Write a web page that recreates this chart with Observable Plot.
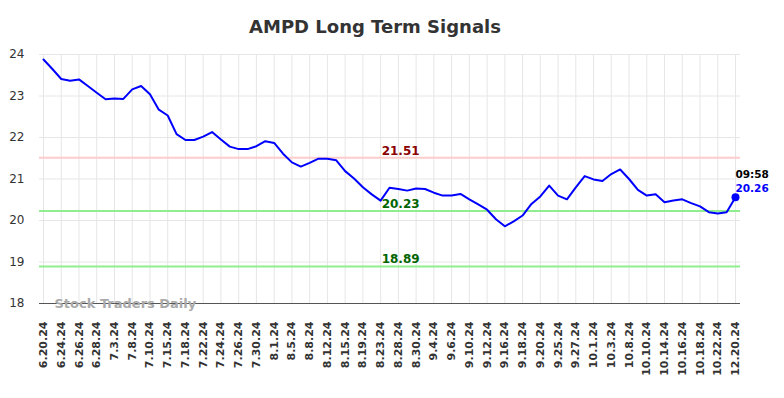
<!DOCTYPE html>
<html>
<head>
<meta charset="utf-8">
<script src="https://cdn.jsdelivr.net/npm/d3@7"></script>
<script src="https://cdn.jsdelivr.net/npm/@observablehq/plot@0.6"></script>
<style>
  html, body { margin: 0; padding: 0; background: #fff; }
  #wrap { width: 784px; height: 398px; position: relative; overflow: hidden; }
  #title { position: relative; height: 40px; width: 784px; }
  #title span { position: absolute; left: 0; width: 750px; top: 18px; line-height: 18px; text-align: center;
    font-family: "DejaVu Sans", sans-serif; font-weight: bold; font-size: 18px; color: #333; }
  svg { display: block; }
</style>
</head>
<body>
<div id="wrap">
  <div id="title"><span>AMPD Long Term Signals</span></div>
  <div id="chart"></div>
</div>
<script>
const categories = [
  "6.20.24","6.21.24","6.24.24","6.25.24","6.26.24","6.27.24","6.28.24","7.1.24","7.3.24","7.5.24",
  "7.8.24","7.9.24","7.10.24","7.12.24","7.15.24","7.17.24","7.18.24","7.19.24","7.22.24","7.23.24",
  "7.24.24","7.25.24","7.26.24","7.29.24","7.30.24","7.31.24","8.1.24","8.2.24","8.5.24","8.6.24",
  "8.8.24","8.9.24","8.12.24","8.13.24","8.15.24","8.16.24","8.19.24","8.21.24","8.23.24","8.26.24",
  "8.28.24","8.29.24","8.30.24","9.3.24","9.4.24","9.5.24","9.6.24","9.9.24","9.10.24","9.11.24",
  "9.12.24","9.13.24","9.16.24","9.17.24","9.18.24","9.19.24","9.20.24","9.23.24","9.25.24","9.26.24",
  "9.27.24","9.30.24","10.1.24","10.2.24","10.3.24","10.4.24","10.8.24","10.9.24","10.10.24","10.11.24",
  "10.14.24","10.15.24","10.16.24","10.17.24","10.18.24","10.21.24","10.22.24","10.23.24","12.20.24"
];
const closes = [
  23.88,23.65,23.41,23.37,23.40,23.24,23.08,22.92,22.94,22.93,
  23.16,23.24,23.04,22.67,22.53,22.08,21.94,21.94,22.02,22.13,
  21.95,21.78,21.72,21.72,21.79,21.91,21.87,21.61,21.40,21.30,
  21.39,21.49,21.49,21.45,21.19,21.01,20.80,20.63,20.48,20.79,
  20.76,20.72,20.77,20.76,20.67,20.60,20.60,20.64,20.51,20.39,
  20.26,20.03,19.86,19.98,20.12,20.40,20.58,20.84,20.60,20.51,
  20.80,21.07,20.99,20.95,21.12,21.23,21.00,20.74,20.60,20.63,
  20.44,20.48,20.51,20.42,20.34,20.20,20.17,20.20,20.56
];
const tickLabels = [
  "6.20.24","6.24.24","6.26.24","6.28.24","7.3.24","7.8.24","7.10.24","7.15.24","7.18.24","7.22.24",
  "7.24.24","7.26.24","7.30.24","8.1.24","8.5.24","8.8.24","8.12.24","8.15.24","8.19.24","8.23.24",
  "8.28.24","8.30.24","9.4.24","9.6.24","9.10.24","9.12.24","9.16.24","9.18.24","9.20.24","9.25.24",
  "9.27.24","10.1.24","10.3.24","10.8.24","10.10.24","10.14.24","10.16.24","10.18.24","10.22.24","12.20.24"
];
const yTicks = [18, 19, 20, 21, 22, 23, 24];
const levels = [21.51, 20.23, 18.89];
const levelLabels = ["21.51", "20.23", "18.89"];
const levelLineColors = ["#ffcccc", "#90ee90", "#90ee90"];
const levelTextColors = ["#8b0000", "#006400", "#006400"];
const levelLabelAt = "8.23.24";
const lastTime = "09:58";
const lastLabel = "20.26";
const watermark = "Stock Traders Daily";

const data = categories.map((d, i) => ({date: d, close: closes[i]}));
const last = data[data.length - 1];

const levelMarks = levels.map((v, i) =>
  Plot.ruleY([v], {stroke: levelLineColors[i], strokeWidth: 2})
);
const levelTexts = levels.map((v, i) =>
  Plot.text([v], {x: () => levelLabelAt, y: d => d, text: () => levelLabels[i], textAnchor: "start",
    dx: 1, dy: -7, fontSize: 12, fontWeight: "bold", fill: levelTextColors[i]})
);

const chart = Plot.plot({
  width: 784,
  height: 358,
  marginTop: 14,
  marginBottom: 95,
  marginLeft: 39,
  marginRight: 44,
  style: {fontFamily: "DejaVu Sans", background: "white", overflow: "visible"},
  x: {type: "point", domain: categories, padding: 0, insetLeft: 4, insetRight: 5, label: null},
  y: {domain: [18, 24], label: null},
  marks: [
    Plot.ruleY(yTicks, {stroke: "#e6e6e6", strokeWidth: 1}),
    Plot.ruleX(tickLabels, {stroke: "#e6e6e6", strokeWidth: 1}),
    ...levelMarks,
    Plot.ruleY([18], {stroke: "#555", strokeWidth: 1}),
    Plot.text([watermark], {frameAnchor: "bottom-left", text: d => d, textAnchor: "start", lineAnchor: "middle",
      dx: 15, dy: 0, fontSize: 13, fontWeight: "bold", fill: "#aaa"}),
    Plot.line(data, {x: "date", y: "close", stroke: "#0000ff", strokeWidth: 2}),
    Plot.dot([last], {x: "date", y: "close", r: 4, fill: "#0000ff", stroke: "none"}),
    ...levelTexts,
    Plot.text([last], {x: "date", y: "close", text: () => lastTime, textAnchor: "start", dy: -23,
      fontSize: 10.5, fontWeight: "bold", fill: "#000"}),
    Plot.text([last], {x: "date", y: "close", text: () => lastLabel, textAnchor: "start", dy: -9,
      fontSize: 10.5, fontWeight: "bold", fill: "#0000ff"}),
    Plot.axisY({ticks: yTicks, tickFormat: d => String(d), tickSize: 0, tickPadding: 15, fontSize: 12,
      color: "#333", label: null}),
    Plot.axisX({ticks: tickLabels, tickRotate: -90, tickSize: 0, tickPadding: 18, fontSize: 11,
      fontWeight: "bold", color: "#333", label: null})
  ]
});
document.getElementById("chart").appendChild(chart);
</script>
</body>
</html>
